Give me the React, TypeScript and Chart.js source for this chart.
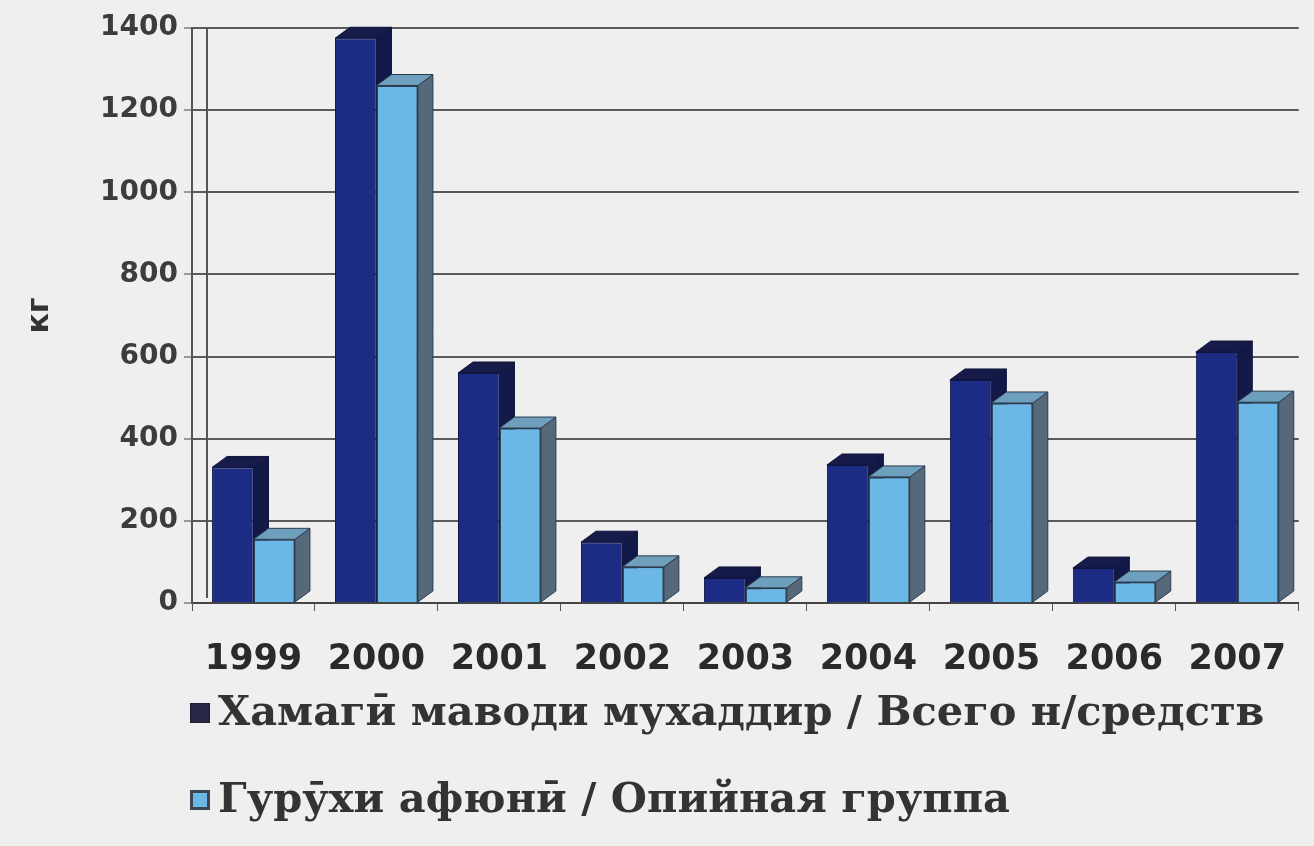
import React, { useEffect, useRef } from 'react';
import { Chart, registerables } from 'chart.js';

Chart.register(...registerables);

const categories = ['1999', '2000', '2001', '2002', '2003', '2004', '2005', '2006', '2007'];
const totalValues = [330, 1375, 560, 148, 61, 336, 543, 85, 611];
const opiumValues = [155, 1260, 426, 88, 37, 307, 487, 51, 489];
const seriesLabels = [
  'Хамагӣ маводи мухаддир / Всего н/средств',
  'Гурӯхи афюнӣ / Опийная группа',
];
const yMin = 0;
const yMax = 1400;
const yStep = 200;
const yAxisTitle = 'кг';

const frontColors = ['#1c2c84', '#6bb7e6'];
const edgeColors = ['#121847', '#2b3f55'];
const faceColors = [
  { top: '#161b4a', side: '#121847', edge: '#0f1438' },
  { top: '#6e9fbd', side: '#56697a', edge: '#2b3b4c' },
];
const legendBoxColors = [
  { fill: '#252745', stroke: '#1e1e30', width: 1 },
  { fill: '#6bb7e6', stroke: '#3c4652', width: 3 },
];

const DEPTH_X = 15;
const DEPTH_Y = 11;

function drawFaces(ctx: CanvasRenderingContext2D, el: any, col: any) {
  const { x, y, base, width } = el.getProps(['x', 'y', 'base', 'width'], true);
  const l = x - width / 2;
  const r = x + width / 2;
  ctx.lineWidth = 1;
  ctx.strokeStyle = col.edge;
  ctx.beginPath();
  ctx.moveTo(r, y);
  ctx.lineTo(r + DEPTH_X, y - DEPTH_Y);
  ctx.lineTo(r + DEPTH_X, base - DEPTH_Y);
  ctx.lineTo(r, base);
  ctx.closePath();
  ctx.fillStyle = col.side;
  ctx.fill();
  ctx.stroke();
  ctx.beginPath();
  ctx.moveTo(l, y);
  ctx.lineTo(l + DEPTH_X, y - DEPTH_Y);
  ctx.lineTo(r + DEPTH_X, y - DEPTH_Y);
  ctx.lineTo(r, y);
  ctx.closePath();
  ctx.fillStyle = col.top;
  ctx.fill();
  ctx.stroke();
}

const threeDPlugin = {
  id: 'threeD',
  beforeDatasetsDraw(chart: any) {
    const { ctx, chartArea } = chart;
    ctx.save();
    ctx.strokeStyle = '#555555';
    ctx.lineWidth = 2;
    ctx.beginPath();
    ctx.moveTo(chartArea.left + DEPTH_X, chartArea.top);
    ctx.lineTo(chartArea.left + DEPTH_X, chartArea.bottom - 5);
    ctx.stroke();
    ctx.restore();
  },
  afterDatasetsDraw(chart: any) {
    const { ctx } = chart;
    const m0 = chart.getDatasetMeta(0);
    const m1 = chart.getDatasetMeta(1);
    ctx.save();
    m0.data.forEach((el: any, i: number) => {
      drawFaces(ctx, el, faceColors[0]);
      const el1 = m1.data[i];
      if (el1) {
        el1.draw(ctx);
        drawFaces(ctx, el1, faceColors[1]);
      }
    });
    ctx.restore();
  },
};

const LEGEND_X = 190;
const LEGEND_ROWS_Y = [713, 800];
const LEGEND_BOX = 20;

const legendPlugin = {
  id: 'rowLegend',
  afterDraw(chart: any) {
    const { ctx } = chart;
    ctx.save();
    chart.data.datasets.forEach((ds: any, i: number) => {
      const cy = LEGEND_ROWS_Y[i];
      const b = legendBoxColors[i];
      ctx.fillStyle = b.fill;
      ctx.fillRect(LEGEND_X, cy - LEGEND_BOX / 2, LEGEND_BOX, LEGEND_BOX);
      ctx.strokeStyle = b.stroke;
      ctx.lineWidth = b.width;
      ctx.strokeRect(LEGEND_X + b.width / 2, cy - LEGEND_BOX / 2 + b.width / 2, LEGEND_BOX - b.width, LEGEND_BOX - b.width);
      ctx.fillStyle = '#333333';
      ctx.font = 'bold 41.5px "DejaVu Serif"';
      ctx.textBaseline = 'middle';
      ctx.textAlign = 'left';
      ctx.fillText(ds.label, LEGEND_X + LEGEND_BOX + 8, cy + 1);
    });
    ctx.restore();
  },
};

export default function App() {
  const ref = useRef<HTMLCanvasElement | null>(null);

  useEffect(() => {
    if (!ref.current) return;
    const chart = new Chart(ref.current, {
      type: 'bar',
      data: {
        labels: categories,
        datasets: [
          {
            label: seriesLabels[0],
            data: totalValues,
            backgroundColor: frontColors[0],
            borderColor: edgeColors[0],
            borderWidth: 1,
            categoryPercentage: 0.674,
            barPercentage: 1,
          },
          {
            label: seriesLabels[1],
            data: opiumValues,
            backgroundColor: frontColors[1],
            borderColor: edgeColors[1],
            borderWidth: 1.5,
            categoryPercentage: 0.674,
            barPercentage: 1,
          },
        ],
      },
      options: {
        responsive: false,
        animation: false,
        layout: { padding: { left: 0, top: 28, right: 0, bottom: 168 } },
        plugins: {
          tooltip: { enabled: false },
          legend: { display: false },
        },
        scales: {
          x: {
            afterFit: (s: any) => {
              s.height = 75;
            },
            grid: {
              drawOnChartArea: false,
              drawTicks: true,
              tickLength: 8,
              color: '#555555',
              offset: true,
            },
            border: { color: '#444444', width: 2 },
            ticks: {
              font: { family: 'DejaVu Sans', weight: 'bold', size: 35 },
              color: '#2a2a2a',
              padding: 28,
            },
          },
          y: {
            min: yMin,
            max: yMax,
            afterFit: (s: any) => {
              s.width = 192;
            },
            grid: {
              color: '#5a5a5a',
              lineWidth: 2,
              tickColor: '#9a9a9a',
              tickLength: 8,
            },
            border: { color: '#555555', width: 2 },
            ticks: {
              stepSize: yStep,
              font: { family: 'DejaVu Sans', weight: 'bold', size: 28 },
              color: '#3c3c3c',
              padding: 6,
              callback: (v: any) => String(v),
            },
            title: {
              display: true,
              text: yAxisTitle,
              font: { family: 'DejaVu Sans', weight: 'bold', size: 30 },
              color: '#333333',
              padding: { top: 22, bottom: 0 },
            },
          },
        },
      },
      plugins: [threeDPlugin, legendPlugin],
    });
    return () => chart.destroy();
  }, []);

  return (
    <div
      style={{
        position: 'absolute',
        left: 0,
        top: 0,
        width: 1314,
        height: 846,
        background: '#efefef',
        overflow: 'hidden',
      }}
    >
      <canvas ref={ref} width={1314} height={846} />
    </div>
  );
}
